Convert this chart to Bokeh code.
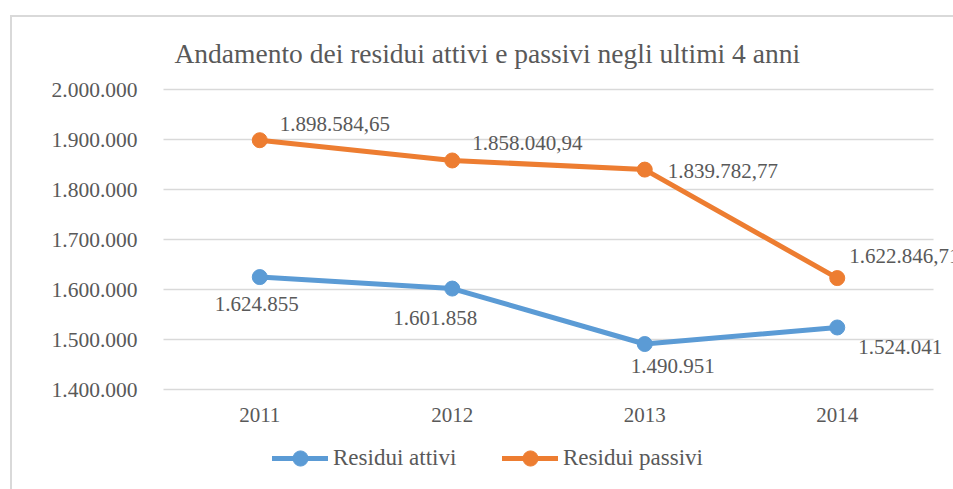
from bokeh.plotting import figure
from bokeh.layouts import column
from bokeh.models import (ColumnDataSource, FactorRange, Range1d, FixedTicker, Legend, LegendItem,
                          LabelSet, InlineStyleSheet)
from bokeh.embed import file_html
from bokeh.resources import INLINE

# ---- data ----
years = ["2011", "2012", "2013", "2014"]
attivi = [1624855, 1601858, 1490951, 1524041]
passivi = [1898584.65, 1858040.94, 1839782.77, 1622846.71]
attivi_labels = ["1.624.855", "1.601.858", "1.490.951", "1.524.041"]
passivi_labels = ["1.898.584,65", "1.858.040,94", "1.839.782,77", "1.622.846,71"]
y_ticks = [1400000, 1500000, 1600000, 1700000, 1800000, 1900000, 2000000]
y_tick_labels = ["1.400.000", "1.500.000", "1.600.000", "1.700.000", "1.800.000", "1.900.000", "2.000.000"]
series_names = ["Residui attivi", "Residui passivi"]
title_text = "Andamento dei residui attivi e passivi negli ultimi 4 anni"

FONT = "Liberation Serif"
TXT = "#595959"
BLUE = "#5B9BD5"
ORANGE = "#ED7D31"
GRID = "#D9D9D9"

pad = 20 / 192.5  # 20px of extra room on each side of the categories
p = figure(width=953, height=435,
           x_range=FactorRange(factors=years, range_padding=pad, range_padding_units="absolute"),
           y_range=Range1d(y_ticks[0] - 8000, y_ticks[-1] + 8000),
           output_backend="svg", toolbar_location=None,
           min_border_left=143, min_border_right=0, min_border_top=85, min_border_bottom=42)
p.outline_line_color = None
p.background_fill_color = None
p.border_fill_color = None

# title
p.title.text = title_text
p.title.align = "left"
p.title.offset = 31
p.title.text_font = FONT
p.title.text_font_size = "27.5px"
p.title.text_font_style = "normal"
p.title.text_color = TXT
p.title.standoff = 33

# grid lines spanning the category band only
p.xgrid.grid_line_color = None
p.ygrid.grid_line_color = None
n = len(years)
p.segment(x0=[0] * len(y_ticks), x1=[n] * len(y_ticks), y0=y_ticks, y1=y_ticks,
          line_color=GRID, line_width=1.5)

# axes
p.yaxis.ticker = FixedTicker(ticks=y_ticks)
p.yaxis.major_label_overrides = {t: l for t, l in zip(y_ticks, y_tick_labels)}
for ax in (p.xaxis[0], p.yaxis[0]):
    ax.axis_line_color = None
    ax.major_tick_line_color = None
    ax.minor_tick_line_color = None
    ax.major_tick_out = 0
    ax.major_tick_in = 0
    ax.major_label_text_font = FONT
    ax.major_label_text_color = TXT
p.yaxis.major_label_text_font_size = "21.5px"
p.xaxis.major_label_text_font_size = "21px"
p.yaxis.major_label_standoff = 6
p.xaxis.major_label_standoff = 14

src = ColumnDataSource(dict(x=years, a=attivi, p=passivi, al=attivi_labels, pl=passivi_labels,
                            ax_off=[-3, -17, 28, 63], ay_off=[-27, -29, -22, -20],
                            px_off=[20, 20, 23, 12], py_off=[16, 17, -1, 22]))

p.line("x", "a", source=src, line_color=BLUE, line_width=5, line_cap="round")
p.scatter("x", "a", source=src, size=15, fill_color=BLUE, line_color=BLUE)
p.line("x", "p", source=src, line_color=ORANGE, line_width=5, line_cap="round")
p.scatter("x", "p", source=src, size=15, fill_color=ORANGE, line_color=ORANGE)

p.add_layout(LabelSet(x="x", y="a", text="al", source=src, x_offset="ax_off", y_offset="ay_off",
                      text_align="center", text_baseline="middle", text_font=FONT,
                      text_font_size="21px", text_color=TXT))
p.add_layout(LabelSet(x="x", y="p", text="pl", source=src, x_offset="px_off", y_offset="py_off",
                      text_align="left", text_baseline="middle", text_font=FONT,
                      text_font_size="21px", text_color=TXT))

# legend strip below the chart (its frame is aligned with the chart's frame)
lf = figure(width=953, height=54, x_range=Range1d(0, 1), y_range=Range1d(0, 1),
            output_backend="svg", toolbar_location=None, min_border=0,
            x_axis_location=None, y_axis_location=None)
lf.outline_line_color = None
lf.background_fill_color = None
lf.border_fill_color = None
lf.grid.grid_line_color = None
items = []
for name, col in zip(series_names, [BLUE, ORANGE]):
    # off-range placeholder point: only the legend swatch is visible
    r1 = lf.line(x=[5, 6], y=[5, 5], line_color=col, line_width=5, line_cap="round")
    r2 = lf.scatter(x=[5], y=[5], size=15, fill_color=col, line_color=col)
    items.append(LegendItem(label=name, renderers=[r1, r2]))
legend = Legend(items=items, orientation="horizontal", location=(272 - 143, 12),
                glyph_width=56, glyph_height=38, label_width=135,
                label_standoff=5, spacing=34, padding=0, margin=0,
                border_line_color=None, background_fill_alpha=0,
                label_text_font=FONT, label_text_font_size="23px", label_text_color=TXT)
lf.add_layout(legend, "center")

page = column(p, lf, spacing=0, stylesheets=[InlineStyleSheet(css=(
    ":host { position: relative; background: white; }"
    ":host::before { content: ''; position: absolute; left: 10px; top: 15px; right: -20px; bottom: -20px;"
    " border-left: 2px solid #D9D9D9; border-top: 2px solid #D9D9D9; pointer-events: none; z-index: 5; }"))])

open("out.html", "w").write(file_html(page, INLINE))
